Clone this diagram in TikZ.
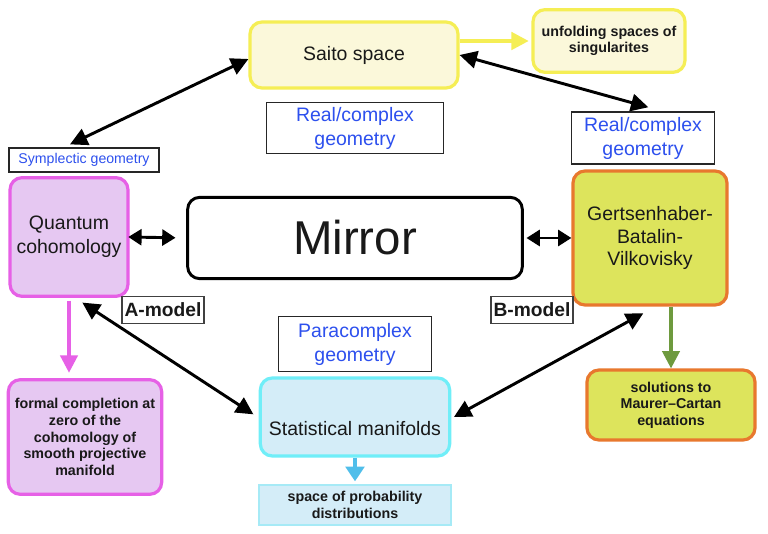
\documentclass[tikz,border=0pt]{standalone}
\usepackage{fontspec}
\setmainfont{Liberation Sans}
\usepackage{xcolor}
\usetikzlibrary{arrows.meta}

\definecolor{saitofill}{HTML}{FBF8DA}
\definecolor{saitoline}{HTML}{F5EE55}
\definecolor{quantfill}{HTML}{E6C8F2}
\definecolor{quantline}{HTML}{E660E6}
\definecolor{gbvfill}{HTML}{DDE45C}
\definecolor{gbvline}{HTML}{E8782E}
\definecolor{statfill}{HTML}{D4EDF8}
\definecolor{statline}{HTML}{70EEF8}
\definecolor{probline}{HTML}{A6EAF6}
\definecolor{geomblue}{HTML}{2D50EE}
\definecolor{greenarrow}{HTML}{6E9A3E}
\definecolor{bluearrow}{HTML}{50BEEA}

\begin{document}
\begin{tikzpicture}[x=0.75pt,y=-0.75pt]
\tikzset{every node/.style={align=center,inner sep=2pt,text=black!90}}
\tikzset{bigfont/.style={font=\fontsize{14.6}{18}\selectfont}}
\tikzset{smallbold/.style={font=\fontsize{10.7}{12.5}\selectfont\bfseries}}
\tikzset{box/.style={draw,rounded corners=9pt,line width=2.4pt}}
\tikzset{geom/.style={draw=black!85,line width=1.1pt,text=geomblue,bigfont}}
\tikzset{model/.style={draw=black!75,line width=1pt,font=\fontsize{14.4}{18}\selectfont\bfseries}}
\tikzset{link/.style={line width=2.2pt,{Triangle[length=13pt,width=13pt]}-{Triangle[length=13pt,width=13pt]}}}
\tikzset{shortlink/.style={line width=2.2pt,{Triangle[length=10pt,width=12pt]}-{Triangle[length=10pt,width=12pt]}}}
\tikzset{down/.style={line width=2.4pt,-{Triangle[length=13pt,width=13pt]}}}

\useasboundingbox[fill=white] (0,0) rectangle (768,534);

% boxes
\node[box,draw=saitoline,fill=saitofill,bigfont,minimum width=156pt,minimum height=49.5pt] (saito) at (354,55) {Saito space};
\node[box,draw=saitoline,fill=saitofill,smallbold,minimum width=114pt,minimum height=47pt] (unfold) at (609,41) {unfolding spaces of\\singularites};
\node[geom,minimum width=133pt,minimum height=38pt] (realL) at (355,128) {Real/complex\\geometry};
\node[geom,minimum width=107pt,minimum height=39pt] (realR) at (643,138) {Real/complex\\geometry};
\node[draw=black!85,line width=1.4pt,text=geomblue,font=\fontsize{10.6}{12}\selectfont,minimum width=112pt,minimum height=18pt] (sympl) at (84,160) {Symplectic geometry};
\node[box,draw=quantline,fill=quantfill,bigfont,minimum width=88.5pt,minimum height=89pt] (quantum) at (69,237) {Quantum\\cohomology};
\node[box,draw=black,line width=2.2pt,font=\fontsize{35.6}{40}\selectfont,minimum width=251pt,minimum height=61pt] (mirror) at (355,238) {Mirror};
\node[box,draw=gbvline,fill=gbvfill,bigfont,minimum width=115.5pt,minimum height=100.5pt] (gbv) at (650,238) {Gertsenhaber-\\[-1pt]Batalin-\\[-1pt]Vilkovisky};
\node[model,minimum width=61.5pt,minimum height=20pt] (amodel) at (163,310) {A-model};
\node[model,minimum width=61.5pt,minimum height=20pt] (bmodel) at (532,310) {B-model};
\node[geom,minimum width=115pt,minimum height=41pt] (para) at (355,344) {Paracomplex\\geometry};
\node[box,draw=statline,fill=statfill,bigfont,minimum width=142pt,minimum height=58.5pt,text height=28pt] (stat) at (355,417) {Statistical manifolds};
\node[draw=probline,fill=statfill,line width=1.5pt,smallbold,minimum width=144pt,minimum height=30pt] (prob) at (355,505) {space of probability\\distributions};
\node[box,draw=quantline,fill=quantfill,smallbold,minimum width=115pt,minimum height=86pt] (formal) at (85,437) {formal completion at\\zero of the\\cohomology of\\smooth projective\\manifold};
\node[box,draw=gbvline,fill=gbvfill,smallbold,minimum width=126pt,minimum height=52.5pt] (solutions) at (671,405) {solutions to\\Maurer--Cartan\\equations};

% connectors
\draw[down,draw=saitoline,line width=2.8pt] (saito.east |- unfold.west) -- ([xshift=-2pt]unfold.west);
\draw[link] ([yshift=-3pt]saito.west) -- ([xshift=-10.5pt,yshift=2pt]sympl.north);
\draw[link] (saito.east) -- ([xshift=4pt,yshift=3pt]realR.north);
\draw[shortlink,shorten >=8pt,shorten <=-1pt] (quantum.east) -- (mirror.west);
\draw[shortlink] ([xshift=2pt]mirror.east) -- (gbv.west);
\draw[link] ([xshift=10pt,yshift=-3.5pt]quantum.south) -- ([xshift=-4pt,yshift=2pt]stat.west);
\draw[link] ([xshift=-5pt,yshift=-5pt]gbv.south) -- ([xshift=2pt]stat.east);
\draw[down,draw=quantline] ([yshift=-2pt]quantum.south) -- ([yshift=4pt]quantum.south |- formal.north);
\draw[down,draw=greenarrow] (gbv.south -| solutions.north) -- (solutions.north);
\draw[down,draw=bluearrow,-{Triangle[length=11pt,width=14pt]}] (stat.south) -- ([yshift=2pt]prob.north);

\end{tikzpicture}
\end{document}
